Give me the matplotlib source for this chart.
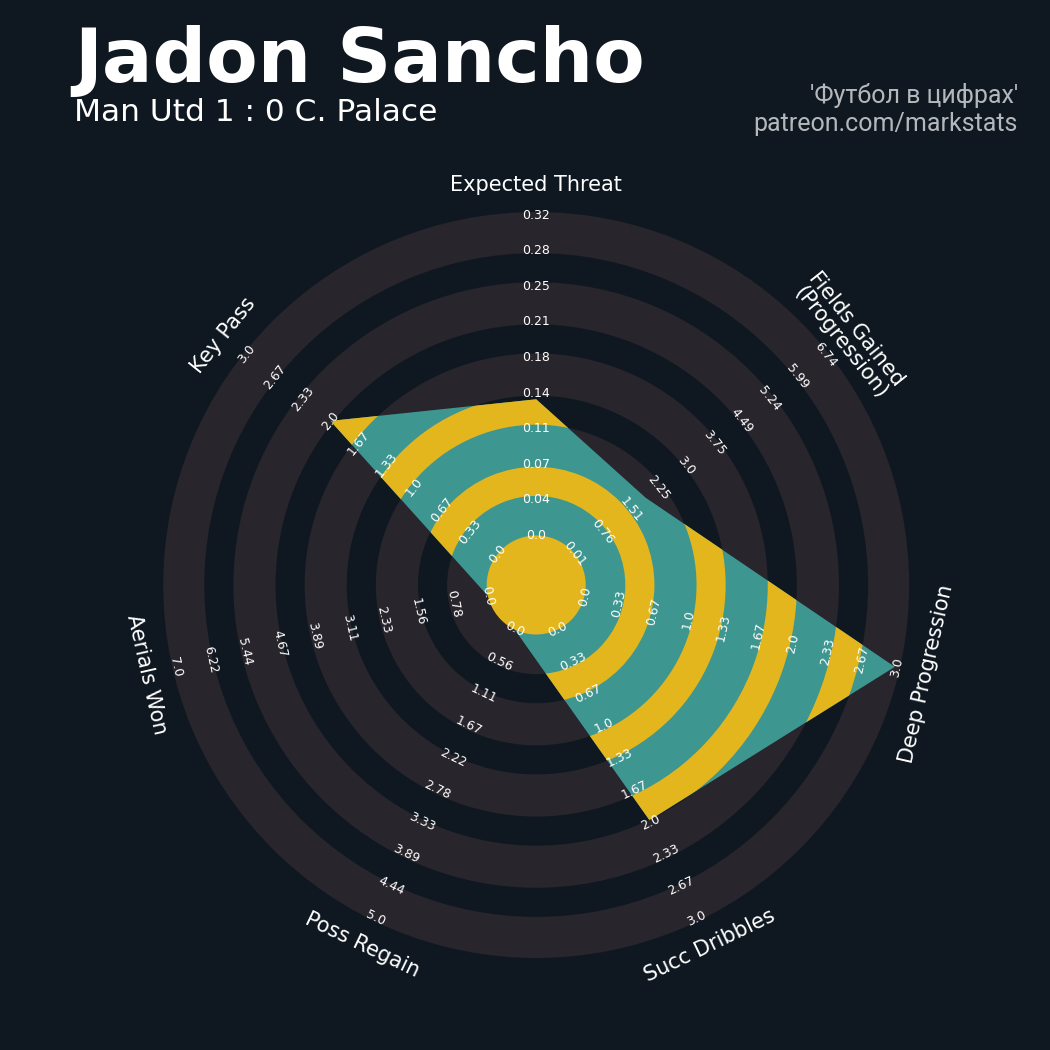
import numpy as np
import matplotlib.pyplot as plt

# ---- data -------------------------------------------------------------
params = [
    "Expected Threat",
    "Fields Gained\n(Progression)",
    "Deep Progression",
    "Succ Dribbles",
    "Poss Regain",
    "Aerials Won",
    "Key Pass",
]
values = [0.136, 1.91, 2.98, 1.98, 0.0, 0.0, 2.0]

xt_labels = ["0.0", "0.04", "0.07", "0.11", "0.14", "0.18", "0.21", "0.25", "0.28", "0.32"]
fields_labels = ["0.01", "0.76", "1.51", "2.25", "3.0", "3.75", "4.49", "5.24", "5.99", "6.74"]
deep_labels = ["0.0", "0.33", "0.67", "1.0", "1.33", "1.67", "2.0", "2.33", "2.67", "3.0"]
dribble_labels = ["0.0", "0.33", "0.67", "1.0", "1.33", "1.67", "2.0", "2.33", "2.67", "3.0"]
regain_labels = ["0.0", "0.56", "1.11", "1.67", "2.22", "2.78", "3.33", "3.89", "4.44", "5.0"]
aerial_labels = ["0.0", "0.78", "1.56", "2.33", "3.11", "3.89", "4.67", "5.44", "6.22", "7.0"]
keypass_labels = ["0.0", "0.33", "0.67", "1.0", "1.33", "1.67", "2.0", "2.33", "2.67", "3.0"]
range_labels = [xt_labels, fields_labels, deep_labels, dribble_labels,
                regain_labels, aerial_labels, keypass_labels]

title = "Jadon Sancho"
subtitle = "Man Utd 1 : 0 C. Palace"
credit = ["'Футбол в цифрах'", "patreon.com/markstats"]

# ---- style ------------------------------------------------------------
BG = "#0f1821"
RING = "#28252c"
TEAL = "#3e9691"
GOLD = "#e3b61e"

R_IN = 49.5      # centre circle radius (px)
R_OUT = 370.0    # radius of the outermost label
N_RINGS = 4

fig = plt.figure(figsize=(10.5, 10.5), dpi=100, facecolor=BG)
cx, cy, half = 536.2, 1050 - 585, 376
ax = fig.add_axes([(cx - half) / 1050, (cy - half) / 1050, 2 * half / 1050, 2 * half / 1050],
                  projection="polar")
ax.set_theta_zero_location("N")
ax.set_theta_direction(-1)
ax.set_ylim(0, half)
ax.axis("off")

n_lab = len(xt_labels)
step = (R_OUT - R_IN) / (n_lab - 1)
full = 2 * np.pi

# background rings
ax.bar(0, R_OUT + 3, width=full, bottom=0, color=RING, linewidth=0, zorder=1)
gaps = [(R_IN + (2 * k - 1) * step + 4, R_IN + 2 * k * step - 2.5) for k in range(1, N_RINGS + 1)]
for lo, hi in gaps:
    ax.bar(0, hi - lo, width=full, bottom=lo, color=BG, linewidth=0, zorder=2)

# radar polygon
theta = np.linspace(0, full, len(params), endpoint=False)
lows = [float(lab[0]) for lab in range_labels]
highs = [float(lab[-1]) for lab in range_labels]
radii = [R_IN + (v - lo) / (hi - lo) * (R_OUT - R_IN) for v, lo, hi in zip(values, lows, highs)]
poly, = ax.fill(theta, radii, color=TEAL, linewidth=0, zorder=3)

for lo, hi in gaps:
    for b in ax.bar(0, hi - lo, width=full, bottom=lo, color=GOLD, linewidth=0, zorder=4):
        b.set_clip_path(poly)
ax.bar(0, R_IN, width=full, bottom=0, color=GOLD, linewidth=0, zorder=5)

# labels
for t, name, labels in zip(theta, params, range_labels):
    deg = np.degrees(t)
    rot = -deg
    if 90 < deg < 270:
        rot += 180
    elif deg >= 270:
        rot += 360
    for k, lab in enumerate(labels):
        ax.text(t, R_IN + k * step, lab, rotation=rot, rotation_mode="anchor",
                ha="center", va="center", fontsize=9, color="white", zorder=6)
    ax.text(t, 400, name, rotation=rot, rotation_mode="anchor", ha="center",
            va="center", fontsize=15, color="white", zorder=6, linespacing=1.0)

fig.text(74 / 1050, 1 - 82 / 1050, title, fontsize=54, fontweight="bold",
         color="white", ha="left", va="baseline")
fig.text(74 / 1050, 1 - 121 / 1050, subtitle, fontsize=22.5, color="white",
         ha="left", va="baseline")
fig.text(1018 / 1050, 1 - 103 / 1050, credit[0], fontsize=18, family="Roboto",
         color="#b4b8bc", ha="right", va="baseline")
fig.text(1018 / 1050, 1 - 131.5 / 1050, credit[1], fontsize=18, family="Roboto",
         color="#b4b8bc", ha="right", va="baseline")

fig.savefig("out.png", dpi=100, facecolor=BG)
